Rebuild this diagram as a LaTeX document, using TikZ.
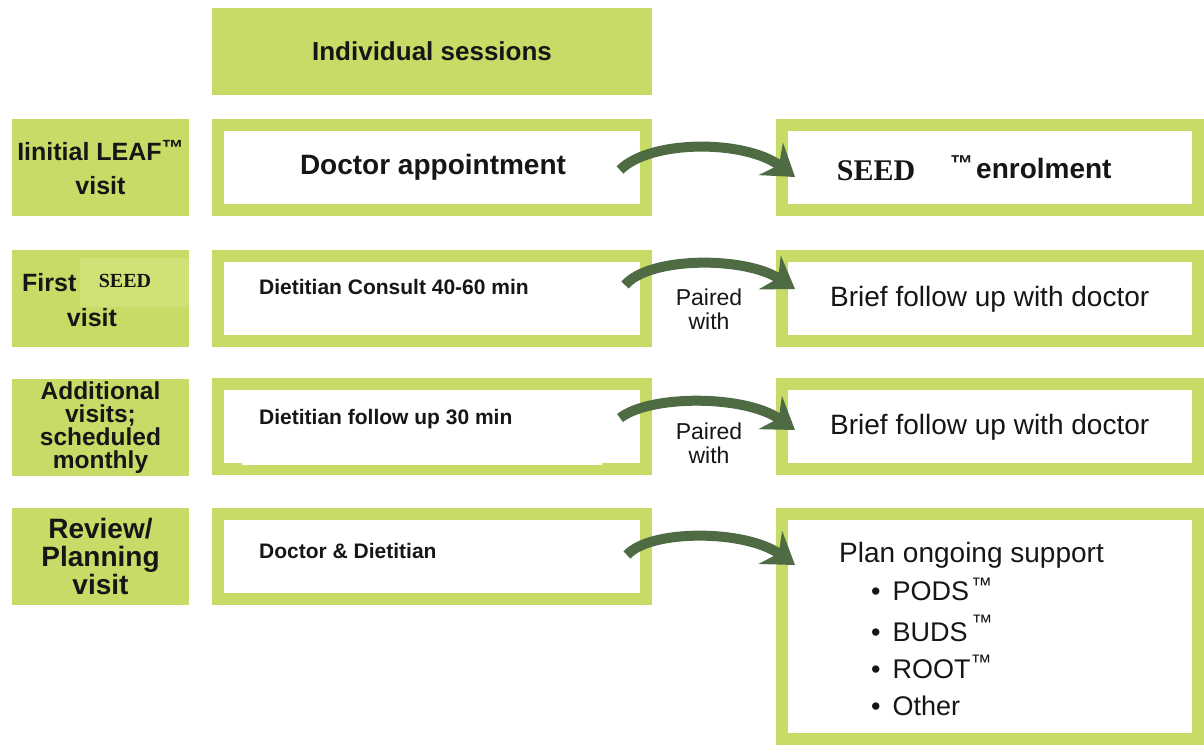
\documentclass[tikz,border=0pt]{standalone}
\usepackage{fontspec}
\setmainfont{Liberation Sans}
\newfontfamily\timesf{Liberation Serif}
\usetikzlibrary{arrows.meta,calc}
\definecolor{lime}{RGB}{198,220,102}
\definecolor{limelight}{RGB}{206,226,118}
\definecolor{arrg}{RGB}{78,107,68}
\definecolor{ink}{RGB}{22,22,22}
\newcommand\fsz[2]{\fontsize{#1}{#2}\selectfont}
\newcommand\tmsup[2]{\raisebox{#1}{\fsz{#2}{20}™}}
\begin{document}
\begin{tikzpicture}[x=1pt,y=-1pt,
  every node/.style={text=ink},
  labelbox/.style={fill=lime, minimum width=177pt, minimum height=97pt, inner sep=0pt, align=center},
  framebox/.style={draw=lime, line width=12pt, fill=white, minimum height=85pt, inner sep=0pt},
  txt/.style={inner sep=0pt},
  arr/.style={draw=arrg, line width=10pt, -{Stealth[length=30pt,width=40pt,inset=10pt]}}]
\useasboundingbox (0,0) rectangle (1204,745);
\fill[white] (0,0) rectangle (1204,745);

% header
\node[labelbox, minimum width=440pt, minimum height=87pt, font={\fsz{26}{30}\bfseries}] (head) at (432,51.5) {Individual sessions};

% left labels
\node[labelbox, font={\fsz{25}{34}\bfseries}] (l1) at (100.5,167.5) {Iinitial LEAF\tmsup{5pt}{22}\\visit};
\node[labelbox] (l2) at (100.5,298.5) {};
\fill[limelight] (80,258) rectangle (189,307);
\node[txt, anchor=west, font={\fsz{25}{30}\bfseries}] (l2a) at (22,283) {First};
\node[txt, font={\fsz{20}{24}\timesf\bfseries}] (l2b) at (125,281) {SEED};
\node[txt, font={\fsz{25}{30}\bfseries}] (l2c) at (92,318) {visit};
\node[labelbox, font={\fsz{24.5}{23}\bfseries}] (l3) at (100.5,427.5) {Additional\\visits;\\scheduled\\monthly};
\node[labelbox, font={\fsz{28}{28}\bfseries}] (l4) at (100.5,556.5) {Review/\\Planning\\visit};

% middle boxes
\node[framebox, minimum width=428pt] (m1) at (432,167.5) {};
\node[framebox, minimum width=428pt] (m2) at (432,298.5) {};
\node[framebox, minimum width=428pt] (m3) at (432,426) {};
\node[framebox, minimum width=428pt] (m4) at (432,556.5) {};
\fill[white] (242,440) rectangle (602,465);

\node[txt, font={\fsz{28}{32}\bfseries}] (m1t) at (433,167) {Doctor appointment};
\node[txt, anchor=west, font={\fsz{21}{25}\bfseries}] (m2t) at (259,287) {Dietitian Consult 40-60 min};
\node[txt, anchor=west, font={\fsz{21}{25}\bfseries}] (m3t) at (259,419) {Dietitian follow up 30 min};
\node[txt, anchor=west, font={\fsz{21}{25}\bfseries}] (m4t) at (259,551) {Doctor \& Dietitian};

% right boxes
\node[framebox, minimum width=416pt] (r1) at (990,167.5) {};
\node[framebox, minimum width=416pt] (r2) at (990,298.5) {};
\node[framebox, minimum width=416pt] (r3) at (990,426) {};
\node[framebox, minimum width=416pt, minimum height=225pt] (r4) at (990,626.5) {};

\node[txt, font={\fsz{30}{34}\timesf\bfseries}] (r1a) at (876,171) {SEED};
\node[txt, anchor=base west, font={\fsz{28}{32}\bfseries}] (r1b) at (950,178) {\tmsup{7pt}{23}\hspace{3pt}enrolment};
\node[txt, anchor=west, font={\fsz{28}{32}}] (r2t) at (830,299) {Brief follow up with doctor};
\node[txt, anchor=west, font={\fsz{28}{32}}] (r3t) at (830,427) {Brief follow up with doctor};
\node[txt, anchor=west, font={\fsz{28}{32}}] (r4t) at (839,555) {Plan ongoing support};
\node[txt, anchor=west, font={\fsz{27}{30}}] (b1) at (871,589) {•\hspace{12pt}PODS\hspace{2pt}\tmsup{8pt}{21}};
\node[txt, anchor=west, font={\fsz{27}{30}}] (b2) at (871,628) {•\hspace{12pt}BUDS\hspace{4pt}\tmsup{12pt}{21}};
\node[txt, anchor=west, font={\fsz{27}{30}}] (b3) at (871,667) {•\hspace{12pt}ROOT\tmsup{9pt}{21}};
\node[txt, anchor=west, font={\fsz{27}{30}}] (b4) at (871,706) {•\hspace{12pt}Other};

% paired with
\node[txt, align=center, font={\fsz{23}{24}}] (p2) at (709,309) {Paired\\with};
\node[txt, align=center, font={\fsz{23}{24}}] (p3) at (709,443) {Paired\\with};

% arrows
\draw[arr] ($(m1.east)+(-32,2.5)$) .. controls ($(m1.east)+(-2,-28)$) and ($(r1.west)+(-31,-28)$) .. ($(r1.west)+(19,9.5)$);
\draw[arr] ($(m2.east)+(-27,-13.5)$) .. controls ($(m2.east)+(-2,-42.2)$) and ($(r2.west)+(-31,-42.2)$) .. ($(r2.west)+(19,-9.5)$);
\draw[arr] ($(m3.east)+(-32,-8)$) .. controls ($(m3.east)+(-2,-31.3)$) and ($(r3.west)+(-31,-31.3)$) .. ($(r3.west)+(19,4)$);
\draw[arr] ($(m4.east)+(-25,-1.5)$) .. controls ($(m4.east)+(-2,-27.2)$) and ($(r4.north west)+(-31,21.3)$) .. ($(r4.north west)+(19,57)$);
\end{tikzpicture}
\end{document}
